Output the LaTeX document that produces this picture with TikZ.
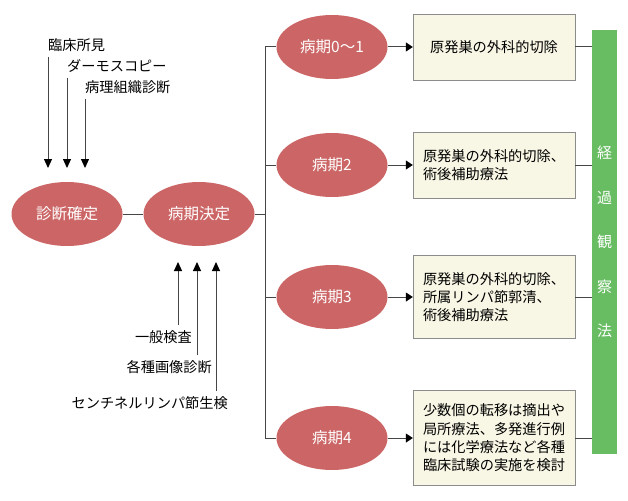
\documentclass[tikz,border=0pt]{standalone}
\usepackage{fontspec}
\setmainfont{Noto Sans CJK JP}
\usetikzlibrary{arrows.meta}
\usetikzlibrary{positioning, shapes.geometric}
\definecolor{stagered}{RGB}{204,102,102}
\definecolor{boxcream}{RGB}{248,246,228}
\definecolor{boxedge}{RGB}{140,140,140}
\definecolor{obsgreen}{RGB}{104,189,98}
\definecolor{linegray}{RGB}{70,70,70}

\begin{document}
\begin{tikzpicture}[x=1pt,y=-1pt]
    \useasboundingbox (0,0) rectangle (628,500);

    % ellipses, use the tuple for location
    \begin{scope}[every node/.style={ellipse, fill=stagered, text=white, inner sep=0pt,
                  minimum width=111pt, minimum height=64pt, font=\fontsize{15.5}{18}\selectfont}]
    \node (diag) at (67,214) {診断確定};
    \node (decide) at (199,214) {病期決定};
    \node (s01) at (332,47) {病期0〜1};
    \node (s2) at (332,165) {病期2};
    \node (s3) at (332,297) {病期3};
    \node (s4) at (332,438) {病期4};
    \end{scope}

    % treatment boxes
    \begin{scope}[every node/.style={draw=boxedge, fill=boxcream, align=left, inner sep=0pt,
                  minimum width=162pt, minimum height=66pt, font=\fontsize{14.2}{18.3}\selectfont}]
    \node (t01) at (494,47) {原発巣の外科的切除};
    \node (t2) at (494,165) {原発巣の外科的切除、\\術後補助療法};
    \node[minimum height=83pt] (t3) at (494,297) {原発巣の外科的切除、\\所属リンパ節郭清、\\術後補助療法};
    \node[minimum height=95pt] (t4) at (494,438) {少数個の転移は摘出や\\局所療法、多発進行例\\には化学療法など各種\\臨床試験の実施を検討};
    \end{scope}

    % follow-up bar
    \node[fill=obsgreen, text=white, minimum width=25pt, minimum height=423pt, inner sep=0pt,
          align=center, font=\fontsize{15}{44.5}\selectfont] (follow) at (604.5,242) {経\\過\\観\\察\\法};

    % findings
    \begin{scope}[every node/.style={inner sep=0pt, font=\fontsize{14.2}{16}\selectfont}]
    \node[anchor=west] (clin) at (48,45) {臨床所見};
    \node[anchor=west] (derm) at (67,66) {ダーモスコピー};
    \node[anchor=west] (path) at (85,87) {病理組織診断};
    \node[anchor=east] (exam) at (192,337) {一般検査};
    \node[anchor=east] (image) at (212,367) {各種画像診断};
    \node[anchor=east] (senti) at (228,403) {センチネルリンパ節生検};
    \end{scope}

    \coordinate (split) at (265,214);
    \coordinate (clintip) at (48,168);
    \coordinate (dermtip) at (67,168);
    \coordinate (pathtip) at (85,168);
    \coordinate (examtip) at (178,262);
    \coordinate (imagetip) at (197,262);
    \coordinate (sentitip) at (216,262);

    \begin{scope}[>={Triangle[length=9pt,width=8pt,black]},
              every edge/.style={draw=linegray, line width=1pt}]
    \path [->] ([yshift=-5pt]clin.south west) edge (clintip);
    \path [->] ([yshift=-5pt]derm.south west) edge (dermtip);
    \path [->] ([yshift=-5pt]path.south west) edge (pathtip);
    \path [->] ([xshift=-14pt,yshift=5pt]exam.north east) edge (examtip);
    \path [->] ([xshift=-15pt,yshift=5pt]image.north east) edge (imagetip);
    \path [->] ([xshift=-12pt,yshift=5pt]senti.north east) edge (sentitip);
    \end{scope}

    % stages
    \begin{scope}[>={Triangle[length=7pt,width=9pt,black]},
              every edge/.style={draw=linegray, line width=1pt}]
    \path [-] (diag) edge (decide);
    \path [-] (decide) edge (split);
    \path [-] (s01.west -| split) edge (s4.west -| split);
    \path [-] (s01.west -| split) edge (s01);
    \path [-] (s2.west -| split) edge (s2);
    \path [-] (s3.west -| split) edge (s3);
    \path [-] (s4.west -| split) edge (s4);
    \path [->] (s01) edge (t01);
    \path [->] (s2) edge (t2);
    \path [->] (s3) edge (t3);
    \path [->] (s4) edge (t4);
    \path [-] (t01) edge (t01 -| follow.west);
    \path [-] (t2) edge (t2 -| follow.west);
    \path [-] (t3) edge (t3 -| follow.west);
    \path [-] (t4) edge (t4 -| follow.west);
    \end{scope}

\end{tikzpicture}
\end{document}
